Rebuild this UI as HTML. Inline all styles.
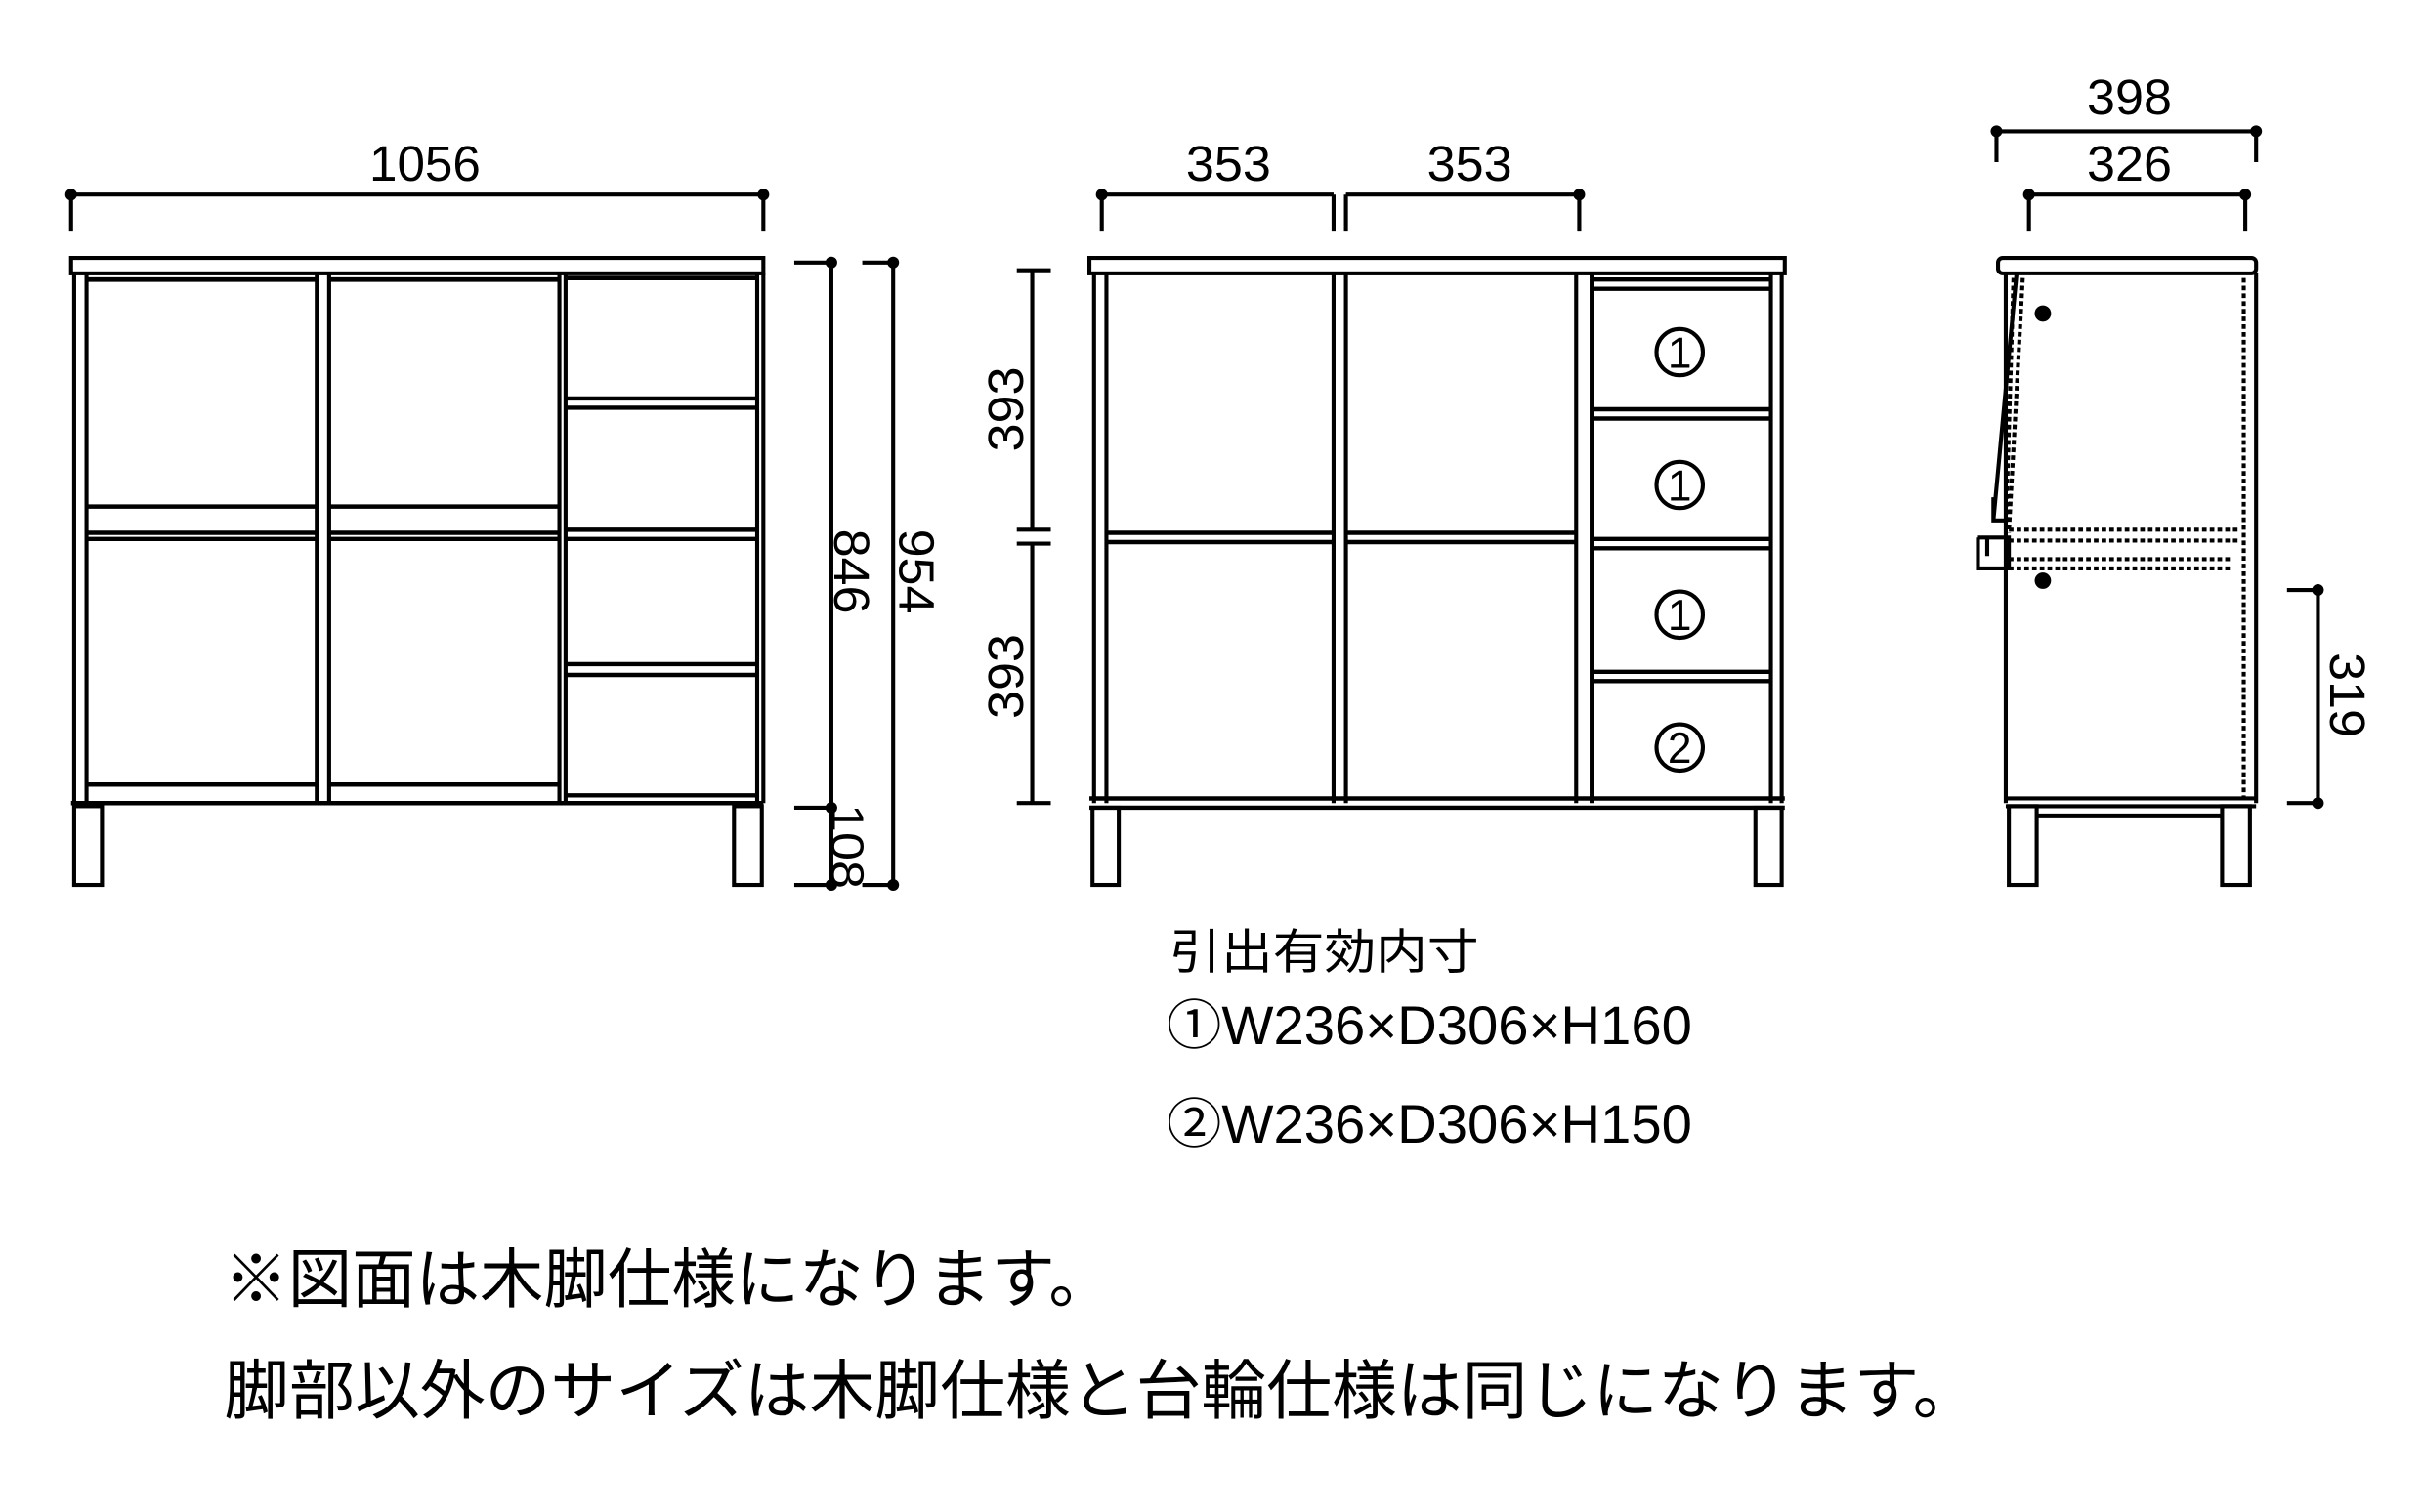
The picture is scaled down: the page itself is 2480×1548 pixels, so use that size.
<!DOCTYPE html>
<html><head><meta charset="utf-8"><style>
html,body{margin:0;padding:0;background:#fff;}
svg{display:block;}
text{font-family:"Liberation Sans","Noto Sans CJK JP",sans-serif;fill:#000;}
</style></head><body>
<svg width="2480" height="1548" viewBox="0 0 1568 979" preserveAspectRatio="none" xmlns="http://www.w3.org/2000/svg">
<g fill="none" stroke="#000" stroke-width="2.6">
<!-- LEFT VIEW -->
<path d="M46 126H494M46 126V150M494 126V150"/>
<circle cx="46" cy="126" r="2.5" fill="#000"/><circle cx="494" cy="126" r="2.5" fill="#000"/>
<rect x="46" y="167" width="448" height="10"/>
<path d="M48 177V520M56 177V520M205 177V520M213 177V520M362 177V520M366 177V520M490 177V520M494 177V520" />
<path d="M56 181H205M213 181H362M366 180H490" stroke-width="3"/>
<path d="M56 328H205M213 328H362M56 345H205M213 345H362M56 349H205M213 349H362" stroke-width="2.8"/>
<path d="M366 258H490M366 264H490M366 343H490M366 349H490M366 430H490M366 437H490" stroke-width="2.8"/>
<path d="M56 508H205M213 508H362M46 520H494M366 515H490" stroke-width="2.8"/>
<rect x="48" y="522" width="18" height="51"/><rect x="475" y="522" width="18" height="51"/>
<path d="M514 170H538V573H514M514 523H538M558 170H578V573H558"/>
<circle cx="538" cy="170" r="2.5" fill="#000"/><circle cx="578" cy="170" r="2.5" fill="#000"/>
<circle cx="538" cy="523" r="2.5" fill="#000"/><circle cx="538" cy="573" r="2.5" fill="#000"/><circle cx="578" cy="573" r="2.5" fill="#000"/>
<!-- MIDDLE VIEW -->
<path d="M713 126H863M713 126V150M863 126V150M871 126H1022M871 126V150M1022 126V150"/>
<circle cx="713" cy="126" r="2.5" fill="#000"/><circle cx="1022" cy="126" r="2.5" fill="#000"/>
<rect x="705" y="167" width="450" height="10"/>
<path d="M708 177V520M716 177V520M863 177V520M871 177V520M1020 177V520M1030 177V520M1146 177V520M1153 177V520"/>
<path d="M716 345H863M871 345H1020M716 351H863M871 351H1020" stroke-width="2.8"/>
<path d="M1030 181H1146M1030 187H1146M1030 265H1146M1030 271H1146M1030 349H1146M1030 355H1146M1030 435H1146M1030 441H1146" stroke-width="2.8"/>
<path d="M705 517H1155M705 523H1155" stroke-width="2.8"/>
<rect x="707" y="523" width="17" height="50"/><rect x="1136" y="523" width="17" height="50"/>
<path d="M658 175H680M668 175V343M658 343H680M658 352H680M668 352V520M658 520H680"/>
<circle cx="1087" cy="228" r="15"/><circle cx="1087" cy="314" r="15"/><circle cx="1087" cy="398" r="15"/><circle cx="1087" cy="484" r="15"/>
<!-- RIGHT VIEW -->
<path d="M1292 85H1460M1292 85V105M1460 85V105M1313 126H1453M1313 126V150M1453 126V150"/>
<circle cx="1292" cy="85" r="2.5" fill="#000"/><circle cx="1460" cy="85" r="2.5" fill="#000"/><circle cx="1313" cy="126" r="2.5" fill="#000"/><circle cx="1453" cy="126" r="2.5" fill="#000"/>
<rect x="1293" y="167" width="167" height="10" rx="3"/>
<path d="M1298 177V520M1460 177V520M1298 517H1460M1298 522H1460"/>
<path d="M1305 177L1290 337M1290 322V337H1298M1280 348H1300V368H1280V348M1286 348V360"/>
<path d="M1303 180L1298 345M1309 180L1300 345M1452 180V517M1300 343H1450M1300 350H1450M1300 362H1445M1300 368H1445" stroke-dasharray="3 2"/>
<circle cx="1322" cy="203" r="4" fill="#000"/><circle cx="1322" cy="376" r="4" fill="#000"/>
<rect x="1300" y="522" width="18" height="51"/><rect x="1438" y="522" width="18" height="51"/>
<path d="M1318 528H1438"/>
<path d="M1480 382H1500V520H1480"/>
<circle cx="1500" cy="382" r="2.5" fill="#000"/><circle cx="1500" cy="520" r="2.5" fill="#000"/>
</g>
<g font-size="32">
<text x="275" y="117" text-anchor="middle" textLength="72" lengthAdjust="spacingAndGlyphs">1056</text>
<text x="795" y="117" text-anchor="middle" textLength="55" lengthAdjust="spacingAndGlyphs">353</text>
<text x="951" y="117" text-anchor="middle" textLength="55" lengthAdjust="spacingAndGlyphs">353</text>
<text x="1378" y="74" text-anchor="middle" textLength="55" lengthAdjust="spacingAndGlyphs">398</text>
<text x="1378" y="117" text-anchor="middle" textLength="55" lengthAdjust="spacingAndGlyphs">326</text>
<text transform="translate(540,370) rotate(90)" text-anchor="middle" textLength="55" lengthAdjust="spacingAndGlyphs">846</text>
<text transform="translate(582,370) rotate(90)" text-anchor="middle" textLength="55" lengthAdjust="spacingAndGlyphs">954</text>
<text transform="translate(538,548) rotate(90)" text-anchor="middle" textLength="55" lengthAdjust="spacingAndGlyphs" font-size="30">108</text>
<text transform="translate(662,265) rotate(-90)" text-anchor="middle" textLength="55" lengthAdjust="spacingAndGlyphs">393</text>
<text transform="translate(662,438) rotate(-90)" text-anchor="middle" textLength="55" lengthAdjust="spacingAndGlyphs">393</text>
<text transform="translate(1508,450) rotate(90)" text-anchor="middle" textLength="55" lengthAdjust="spacingAndGlyphs">319</text>
</g>
<g font-size="28" text-anchor="middle">
<text x="1087" y="238">1</text><text x="1087" y="324">1</text><text x="1087" y="408">1</text><text x="1087" y="494">2</text>
</g>
<text x="757" y="627" font-size="31" textLength="200" lengthAdjust="spacingAndGlyphs">引出有効内寸</text>
<text x="755" y="676" font-size="35" textLength="340" lengthAdjust="spacingAndGlyphs">①W236×D306×H160</text>
<text x="755" y="740" font-size="35" textLength="340" lengthAdjust="spacingAndGlyphs">②W236×D306×H150</text>
<text x="145" y="843" font-size="42" textLength="575" lengthAdjust="spacingAndGlyphs">※図面は木脚仕様になります。</text>
<text x="145" y="915" font-size="42" textLength="1135" lengthAdjust="spacingAndGlyphs">脚部以外のサイズは木脚仕様と台輪仕様は同じになります。</text>
</svg>
</body></html>
